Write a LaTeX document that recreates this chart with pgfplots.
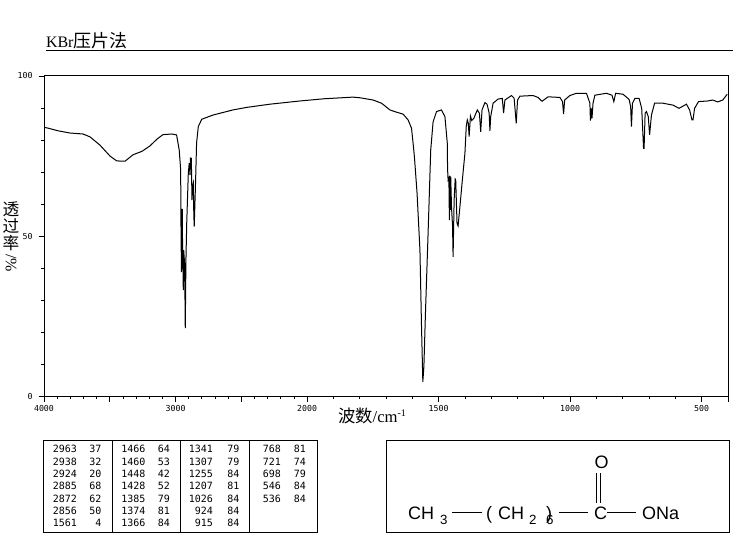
\documentclass[border=0pt]{standalone}
\usepackage{fontspec}
\usepackage{pgfplots}
\usepackage{pgfplotstable}
\pgfplotsset{compat=1.18}
\setmainfont{Liberation Serif}
\setsansfont{Liberation Sans}
\setmonofont{DejaVu Sans Mono}
\newfontfamily\cjk{Noto Sans CJK SC}

% wavenumber (cm-1), transmittance (%)
\pgfplotstableread{
w T
4000 84.0
3967 83.7
3894 82.9
3802 82.2
3704 81.9
3650 81.0
3574 78.4
3498 75.0
3447 73.5
3384 73.4
3324 75.4
3255 76.5
3194 78.2
3141 80.3
3096 81.7
3027 81.9
2992 81.6
2972 76.9
2961 70.7
2959 55.1
2955 38.8
2949 58.5
2947 48.8
2941 33.2
2938 45.7
2932 42.0
2928 30.0
2926 21.3
2921 42.6
2915 54.0
2903 69.6
2896 72.8
2890 69.1
2887 74.4
2880 74.3
2875 61.3
2873 65.0
2865 66.6
2861 56.6
2858 53.0
2848 66.5
2840 79.1
2827 84.2
2801 86.5
2716 87.8
2564 89.4
2459 90.2
2282 91.2
2054 92.2
1933 92.9
1826 93.4
1799 93.2
1749 92.5
1717 91.5
1685 89.4
1660 88.7
1635 88.1
1616 86.3
1603 83.7
1597 79.0
1592 74.8
1582 63.5
1571 45.7
1565 21.8
1560 4.6
1556 9.3
1550 26.1
1540 51.0
1530 76.9
1521 85.7
1508 88.9
1489 89.4
1476 87.3
1467 79.0
1466 71.2
1464 67.6
1461 68.2
1459 55.0
1457 68.8
1455 58.2
1454 68.6
1451 59.2
1447 53.0
1445 43.6
1441 61.3
1437 67.8
1435 67.5
1430 54.0
1426 53.2
1419 59.2
1411 66.5
1400 75.9
1395 84.2
1391 86.3
1387 85.2
1384 81.1
1379 87.5
1374 86.1
1366 86.8
1353 89.4
1345 88.4
1340 82.6
1335 89.4
1324 91.7
1316 91.2
1308 88.5
1305 82.9
1302 87.3
1293 91.5
1274 92.8
1258 93.0
1253 88.4
1248 92.5
1223 93.9
1213 93.1
1205 85.2
1200 92.5
1191 93.7
1141 93.9
1122 93.3
1107 92.1
1084 93.5
1039 93.3
1029 92.0
1025 88.1
1021 92.5
1001 93.9
976 94.6
938 94.6
925 91.5
923 86.1
919 89.9
917 86.8
913 91.5
906 94.0
862 94.6
841 94.0
834 92.0
827 94.6
799 94.3
776 92.7
770 90.4
767 84.2
763 91.5
754 93.0
738 93.0
728 89.9
721 77.4
719 77.4
715 88.4
710 88.9
703 87.3
698 81.6
691 87.8
679 91.5
647 91.5
609 90.9
586 89.9
558 91.2
546 89.4
537 86.3
533 86.3
527 89.9
512 92.0
477 92.2
458 92.5
439 91.9
420 92.5
403 94.3
}\spectrum

\begin{document}
\begin{tikzpicture}
\begin{scope}[x=0.75pt,y=-0.75pt]
\path[use as bounding box] (0,0) rectangle (737,539);
\end{scope}

% x scale changes at 2000: position = (4000-w)/1000 above, 2+(2000-w)/500 below
\begin{axis}[
    at={(33pt,-297.375pt)},
    anchor=south west,
    scale only axis,
    width=513pt,
    height=240.4pt,
    xmin=0, xmax=5.2,
    ymin=0, ymax=100,
    axis line style={line width=0.75pt},
    tick style={black,line width=0.6pt},
    tick align=outside,
    tick pos=left,
    major tick length=4pt,
    minor tick length=2pt,
    xtick={0,1,2,3,4,5},
    xticklabels={4000,3000,2000,1500,1000,500},
    minor xtick={0.1,0.2,0.3,0.4,0.6,0.7,0.8,0.9,1.1,1.2,1.3,1.4,1.6,1.7,1.8,1.9,
      2.2,2.4,2.6,2.8,3.2,3.4,3.6,3.8,4.2,4.4,4.6,4.8},
    extra x ticks={0.5,1.5,5.2},
    extra x tick labels={},
    ytick={0,50,100},
    minor ytick={10,20,30,40,60,70,80,90},
    tick label style={font=\ttfamily\fontsize{6.2}{7}\selectfont},
    /pgf/number format/assume math mode=true,
    xticklabel style={yshift=1pt},
    yticklabel style={xshift=-1pt},
]
\addplot[black,line width=0.75pt,sharp plot,no markers]
  table[x expr={\thisrow{w}>=2000 ? (4000-\thisrow{w})/1000 : 2+(2000-\thisrow{w})/500},y=T] {\spectrum};
\end{axis}

\begin{scope}[x=0.75pt,y=-0.75pt,every node/.style={inner sep=0pt,outer sep=0pt}]
% title
\node[anchor=base west] at (46,47.5) {\fontsize{12}{13}\selectfont KBr{\cjk\fontsize{13.5}{14}\selectfont 压片法}};
\draw[line width=0.75pt] (46,50.5) -- (733,50.5);

% axis titles
\foreach \c/\yy in {透/209,过/226,率/243}
  \node at (11,\yy) {\cjk\fontsize{12.5}{13}\selectfont \c};
\node[rotate=-90] at (11,263) {\fontsize{12}{13}\selectfont /\%};
\node[anchor=base west] at (338,422) {{\cjk\fontsize{13}{14}\selectfont 波数}\fontsize{12.5}{13}\selectfont /cm\raisebox{4pt}{\fontsize{7.5}{8}\selectfont -1}};

% peak table
\draw[line width=0.75pt] (43.5,440.5) rectangle (317.5,532.5);
\foreach \xx in {112.5,180.5,249.5}
  \draw[line width=0.75pt] (\xx,440.5) -- (\xx,532.5);
\tikzset{peak/.style={anchor=east,font=\ttfamily\fontsize{7.5}{8}\selectfont}}
\foreach \yy/\a/\b in {449.3/2963/37,461.7/2938/32,474/2924/20,486.3/2885/68,498.7/2872/62,511/2856/50,523.3/1561/4} {
  \node[peak] at (77,\yy) {\a}; \node[peak] at (101.5,\yy) {\b};}
\foreach \yy/\a/\b in {449.3/1466/64,461.7/1460/53,474/1448/42,486.3/1428/52,498.7/1385/79,511/1374/81,523.3/1366/84} {
  \node[peak] at (145.5,\yy) {\a}; \node[peak] at (170,\yy) {\b};}
\foreach \yy/\a/\b in {449.3/1341/79,461.7/1307/79,474/1255/84,486.3/1207/81,498.7/1026/84,511/924/84,523.3/915/84} {
  \node[peak] at (213,\yy) {\a}; \node[peak] at (239.5,\yy) {\b};}
\foreach \yy/\a/\b in {449.3/768/81,461.7/721/74,474/698/79,486.3/546/84,498.7/536/84} {
  \node[peak] at (281,\yy) {\a}; \node[peak] at (306,\yy) {\b};}

% structure
\draw[line width=0.75pt] (386.5,440.5) rectangle (729,532.5);
\tikzset{atom/.style={anchor=base west,font=\sffamily\fontsize{13.5}{14}\selectfont},
  subs/.style={anchor=base west,font=\sffamily\fontsize{10}{11}\selectfont}}
\node[atom] at (408,519) {CH};
\node[subs] at (440,524) {3};
\draw[line width=0.6pt] (452,512) -- (482,512);
\node[atom] at (486,519) {(};
\node[atom] at (498,519) {CH};
\node[subs] at (529,524) {2};
\node[atom] at (546,519) {)};
\node[subs] at (546,524) {6};
\draw[line width=0.6pt] (559,512) -- (588,512);
\node[atom] at (594,519) {C};
\draw[line width=0.6pt] (607,512) -- (636,512);
\node[atom] at (642,519) {ONa};
\node[atom] at (594.5,468) {O};
\draw[line width=0.6pt] (596,473) -- (596,503);
\draw[line width=0.6pt] (600,473) -- (600,503);
\end{scope}
\end{tikzpicture}
\end{document}
